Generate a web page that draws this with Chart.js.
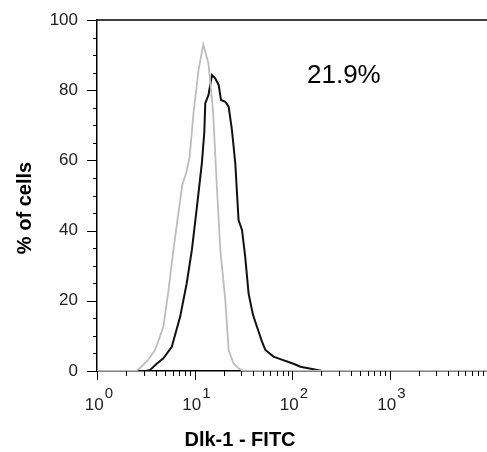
<!DOCTYPE html>
<html>
<head>
<meta charset="utf-8">
<script src="https://cdn.jsdelivr.net/npm/chart.js@4/dist/chart.umd.min.js"></script>
<style>
  body { margin: 0; background: #fff; }
  canvas { display: block; }
</style>
</head>
<body>
<canvas id="myChart" width="487" height="452"></canvas>
<script>
// fluorescence (x, log axis) and % of cells (y)
var controlX = [1, 2.51, 2.75, 3.31, 3.94, 4.79, 5.41, 6.08, 6.76, 7.50, 8.32, 8.91, 9.77, 11.0, 12.3, 13.9, 15.5, 17.0, 18.4, 20.7, 22.4, 25.1, 28.2, 31.6, 10000];
var controlY = [0, 0, 0.8, 3, 6, 12.6, 23, 34.5, 44, 53, 57, 61, 73.5, 85.8, 93, 87.7, 74, 52, 34.5, 20.2, 6, 2.2, 0.8, 0, 0];

var dlkX = [1, 3.16, 3.51, 4.07, 4.79, 5.85, 7.13, 8.32, 9.40, 10.6, 11.9, 12.6, 12.9, 13.9, 15.1, 16.3, 17.7, 18.7, 20.7, 22.4, 24.2, 26.2, 28.3, 30.7, 33.1, 35.9, 39.8, 43.7, 49.0, 53.3, 64.6, 75.9, 89.1, 105, 122, 166, 204, 10000];
var dlkY = [0, 0, 0.3, 2, 3.6, 6.9, 15.5, 25, 34.5, 46.8, 59.2, 68, 76.3, 78.6, 84.3, 83.4, 81.5, 77.2, 76.7, 75.3, 68.7, 59.2, 43, 40.2, 32.6, 22, 16, 12.6, 8.5, 6, 4.1, 3.4, 2.7, 2, 1.2, 0.5, 0, 0];

var yTicks = [0, 20, 40, 60, 80, 100];
var xDecades = [0, 1, 2, 3];
var gateLabel = "21.9%";
var xTitle = "Dlk-1 - FITC";
var yTitle = "% of cells";

var FONT = '"Liberation Sans", Arial, sans-serif';

function toPoints(xs, ys) {
	var pts = [];
	for (var i = 0; i < xs.length; i++) pts.push({x: xs[i], y: ys[i]});
	return pts;
}

function seg(ctx, x1, y1, x2, y2) {
	ctx.beginPath();
	ctx.moveTo(x1, y1);
	ctx.lineTo(x2, y2);
	ctx.stroke();
}

// ticks, superscript labels, titles and the gate text
var extras = {
	id: 'extras',
	afterDraw: function(chart) {
		var ctx = chart.ctx, a = chart.chartArea;
		var xs = chart.scales.x, ys = chart.scales.y;
		ctx.save();
		ctx.strokeStyle = '#000';
		ctx.lineWidth = 1.5;
		seg(ctx, a.left, a.top, a.right, a.top);

		ctx.lineWidth = 1;
		for (var v = 0; v <= 100; v += 5) {
			var py = Math.round(ys.getPixelForValue(v)) + 0.5;
			var len = (v % 20 === 0) ? 10 : 4;
			seg(ctx, a.left - len, py, a.left, py);
		}
		for (var d = 0; d <= 4; d++) {
			for (var m = 1; m < 10; m++) {
				if (d === 4 && m > 1) break;
				var px = Math.round(xs.getPixelForValue(m * Math.pow(10, d))) + 0.5;
				seg(ctx, px, a.bottom, px, a.bottom + (m === 1 ? 9 : 5));
			}
		}

		ctx.fillStyle = '#222';
		ctx.textBaseline = 'alphabetic';
		ctx.textAlign = 'left';
		xDecades.forEach(function(e) {
			var cx = xs.getPixelForValue(Math.pow(10, e)) + 2;
			ctx.font = '17px ' + FONT;
			var w1 = ctx.measureText('10').width;
			ctx.font = '15px ' + FONT;
			var w2 = ctx.measureText(String(e)).width;
			var x0 = cx - (w1 + w2 + 1) / 2;
			ctx.font = '17px ' + FONT;
			ctx.fillText('10', x0, 410);
			ctx.font = '15px ' + FONT;
			ctx.fillText(String(e), x0 + w1 + 1, 398);
		});

		ctx.fillStyle = '#000';
		ctx.font = '26px ' + FONT;
		ctx.fillText(gateLabel, 307, 83);

		ctx.font = 'bold 20px ' + FONT;
		ctx.textAlign = 'center';
		ctx.textBaseline = 'middle';
		ctx.fillText(xTitle, 240, 440);
		ctx.translate(25, 208);
		ctx.rotate(-Math.PI / 2);
		ctx.fillText(yTitle, 0, 0);
		ctx.restore();
	}
};

var ctx = document.getElementById("myChart");
var chartInstance = new Chart(ctx, {
	type: 'line',
	data: {
		datasets: [
			{
				label: "control",
				data: toPoints(controlX, controlY),
				borderColor: "#bdbdbd",
				borderWidth: 1.8,
				pointRadius: 0,
				tension: 0
			},
			{
				label: "Dlk-1",
				data: toPoints(dlkX, dlkY),
				borderColor: "#111",
				borderWidth: 2,
				pointRadius: 0,
				tension: 0
			}
		]
	},
	options: {
		responsive: false,
		animation: false,
		devicePixelRatio: 1,
		layout: { padding: { top: 20, right: 0, bottom: 0, left: 0 } },
		plugins: { legend: { display: false }, tooltip: { enabled: false } },
		scales: {
			x: {
				type: 'logarithmic',
				min: 1,
				max: 10000,
				grid: { display: false },
				border: { display: true, color: '#000', width: 1.5 },
				ticks: { display: false },
				afterFit: function(s) { s.height = 81; }
			},
			y: {
				min: 0,
				max: 100,
				// tick marks come from the plugin; the invisible ones here only push the labels left
				grid: { display: true, drawOnChartArea: false, drawTicks: true, tickLength: 19, color: 'rgba(0,0,0,0)' },
				border: { display: true, color: '#000', width: 1.5 },
				afterBuildTicks: function(s) {
					s.ticks = yTicks.map(function(v) { return {value: v}; });
				},
				ticks: {
					padding: 0,
					color: '#222',
					font: { family: FONT, size: 17 }
				},
				afterFit: function(s) { s.width = 97; }
			}
		}
	},
	plugins: [extras]
});
</script>
</body>
</html>
